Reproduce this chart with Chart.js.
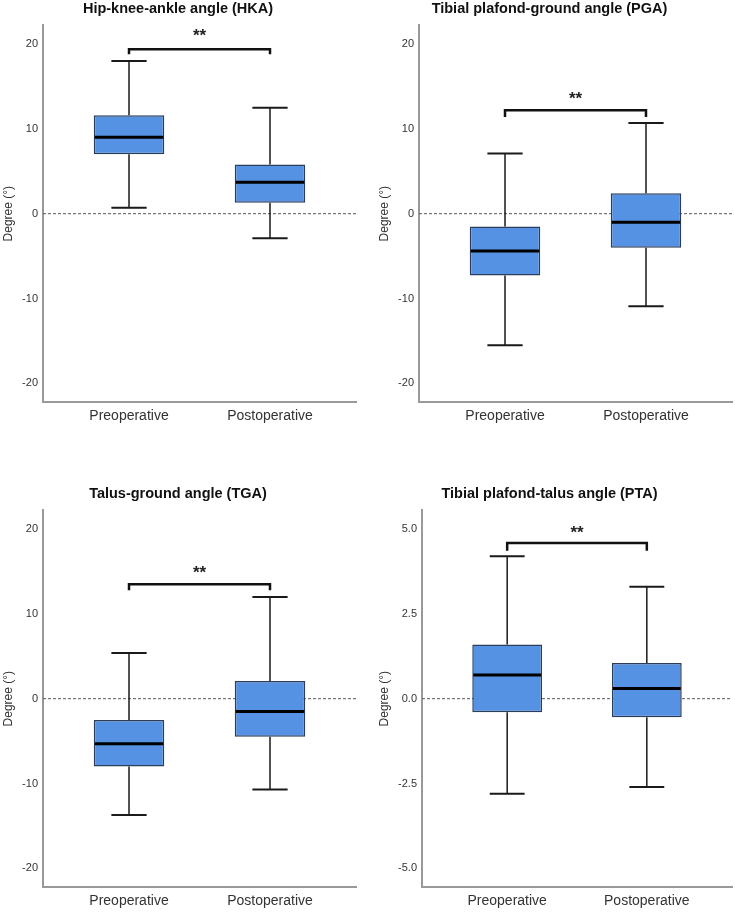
<!DOCTYPE html>
<html>
<head>
<meta charset="utf-8">
<script src="https://cdn.jsdelivr.net/npm/chart.js@4"></script>
<style>
  html, body { margin: 0; padding: 0; background: #fff; overflow: hidden; }
  #wrap { position: relative; width: 735px; height: 912px; }
  canvas { position: absolute; }
</style>
</head>
<body>
<div id="wrap">
  <canvas id="hka" width="367" height="427" style="left:0;top:0"></canvas>
  <canvas id="pga" width="368" height="427" style="left:367px;top:0"></canvas>
  <canvas id="tga" width="367" height="427" style="left:0;top:485px"></canvas>
  <canvas id="pta" width="368" height="427" style="left:367px;top:485px"></canvas>
</div>
<script>
const groups = ['Preoperative', 'Postoperative'];
const groupPos = [0, 1];

// [min, q1, median, q3, max]
const hkaPre = [0.7, 7.0, 9.0, 11.6, 18.0];
const hkaPost = [-2.9, 1.3, 3.7, 5.8, 12.5];
const pgaPre = [-15.5, -7.3, -4.4, -1.5, 7.1];
const pgaPost = [-10.9, -4.0, -1.0, 2.4, 10.7];
const tgaPre = [-13.7, -8.0, -5.3, -2.5, 5.4];
const tgaPost = [-10.7, -4.5, -1.5, 2.1, 12.0];
const ptaPre = [-2.8, -0.4, 0.7, 1.6, 4.2];
const ptaPost = [-2.6, -0.55, 0.3, 1.05, 3.3];

// significance bracket: [bar level, end level, stars level]
const hkaSig = [19.4, 18.8, 21.2];
const pgaSig = [12.2, 11.4, 13.8];
const tgaSig = [13.5, 12.8, 15.0];
const ptaSig = [4.59, 4.36, 4.95];

const degTicks = [-20, -10, 0, 10, 20];
const ptaTicks = [-5, -2.5, 0, 2.5, 5];

const FONT = "'Liberation Sans', Arial, sans-serif";

function makeChart(id, title, pre, post, sig, ticks, yMax, dec, yWidth, titlePad, padRight) {
  const stats = [pre, post];

  // whiskers, medians, zero line and the bracket, placed through the scales
  const boxParts = {
    id: 'boxParts',
    beforeDatasetsDraw(chart) {
      const { ctx, chartArea, scales: { y } } = chart;
      const y0 = y.getPixelForValue(0);
      ctx.save();
      ctx.setLineDash([3, 2]);
      ctx.strokeStyle = '#555';
      ctx.lineWidth = 1;
      ctx.beginPath();
      ctx.moveTo(chartArea.left, y0);
      ctx.lineTo(chartArea.right, y0);
      ctx.stroke();
      ctx.restore();
    },
    afterDatasetsDraw(chart) {
      const { ctx, scales: { x, y } } = chart;
      const bars = chart.getDatasetMeta(0).data;
      ctx.save();
      ctx.strokeStyle = '#1a1a1a';
      stats.forEach((s, i) => {
        const cx = x.getPixelForValue(groupPos[i]);
        const half = bars[i].width / 2;
        const cap = half / 2;
        // whisker stems
        ctx.lineWidth = 1.5;
        ctx.beginPath();
        ctx.moveTo(cx, y.getPixelForValue(s[3]));
        ctx.lineTo(cx, y.getPixelForValue(s[4]));
        ctx.moveTo(cx, y.getPixelForValue(s[1]));
        ctx.lineTo(cx, y.getPixelForValue(s[0]));
        ctx.stroke();
        // caps
        ctx.lineWidth = 2;
        ctx.beginPath();
        ctx.moveTo(cx - cap, y.getPixelForValue(s[4]));
        ctx.lineTo(cx + cap, y.getPixelForValue(s[4]));
        ctx.moveTo(cx - cap, y.getPixelForValue(s[0]));
        ctx.lineTo(cx + cap, y.getPixelForValue(s[0]));
        ctx.stroke();
        // median
        ctx.lineWidth = 3;
        ctx.strokeStyle = '#000';
        ctx.beginPath();
        ctx.moveTo(cx - half + 1, y.getPixelForValue(s[2]));
        ctx.lineTo(cx + half - 1, y.getPixelForValue(s[2]));
        ctx.stroke();
        ctx.strokeStyle = '#1a1a1a';
      });
      // bracket
      const x0 = x.getPixelForValue(groupPos[0]);
      const x1 = x.getPixelForValue(groupPos[1]);
      const yb = y.getPixelForValue(sig[0]);
      const ye = y.getPixelForValue(sig[1]);
      ctx.lineWidth = 2.5;
      ctx.strokeStyle = '#111';
      ctx.beginPath();
      ctx.moveTo(x0, ye);
      ctx.lineTo(x0, yb);
      ctx.lineTo(x1, yb);
      ctx.lineTo(x1, ye);
      ctx.stroke();
      ctx.fillStyle = '#222';
      ctx.font = 'bold 17px ' + FONT;
      ctx.textAlign = 'center';
      ctx.textBaseline = 'alphabetic';
      ctx.fillText('**', (x0 + x1) / 2, y.getPixelForValue(sig[2]) + 7);
      ctx.restore();
    }
  };

  return new Chart(document.getElementById(id), {
    type: 'bar',
    data: {
      datasets: [{
        data: groupPos.map((p, i) => ({ x: p, y: [stats[i][1], stats[i][3]] })),
        backgroundColor: '#5592e3',
        borderColor: '#2c3d5c',
        borderWidth: 1.5,
        borderSkipped: false,
        barPercentage: 0.5,
        categoryPercentage: 1
      }]
    },
    options: {
      responsive: false,
      animation: false,
      layout: { padding: { left: 0, right: padRight, top: 0, bottom: 0 } },
      plugins: {
        legend: { display: false },
        tooltip: { enabled: false },
        title: {
          display: true,
          text: title,
          color: '#111',
          font: { family: FONT, size: 14.5, weight: 'bold' },
          padding: { top: 0, bottom: 8 }
        }
      },
      scales: {
        x: {
          type: 'linear',
          offset: false,
          min: -0.61,
          max: 1.61,
          grid: { display: false, offset: false, drawTicks: false },
          border: { color: '#999', width: 2 },
          afterBuildTicks: s => { s.ticks = groupPos.map(v => ({ value: v })); },
          ticks: {
            callback: v => groups[v],
            color: '#333',
            font: { family: FONT, size: 14 },
            padding: 6,
            maxRotation: 0,
            autoSkip: false
          },
          afterFit: s => { s.height = 25; }
        },
        y: {
          min: -yMax,
          max: yMax,
          grid: { display: false, drawTicks: false },
          border: { color: '#999', width: 2 },
          afterBuildTicks: s => { s.ticks = ticks.map(v => ({ value: v })); },
          ticks: {
            callback: v => v.toFixed(dec),
            color: '#333',
            font: { family: FONT, size: 11 },
            padding: 5
          },
          title: {
            display: true,
            text: 'Degree (°)',
            color: '#333',
            font: { family: FONT, size: 12 },
            padding: { top: titlePad, bottom: 0 }
          },
          afterFit: s => { s.width = yWidth; }
        }
      }
    },
    plugins: [boxParts]
  });
}

makeChart('hka', 'Hip-knee-ankle angle (HKA)', hkaPre, hkaPost, hkaSig, degTicks, 22.2, 0, 43, 1, 11);
makeChart('pga', 'Tibial plafond-ground angle (PGA)', pgaPre, pgaPost, pgaSig, degTicks, 22.2, 0, 52, 10, 3);
makeChart('tga', 'Talus-ground angle (TGA)', tgaPre, tgaPost, tgaSig, degTicks, 22.2, 0, 43, 1, 11);
makeChart('pta', 'Tibial plafond-talus angle (PTA)', ptaPre, ptaPost, ptaSig, ptaTicks, 5.55, 1, 55, 10, 3);
</script>
</body>
</html>
